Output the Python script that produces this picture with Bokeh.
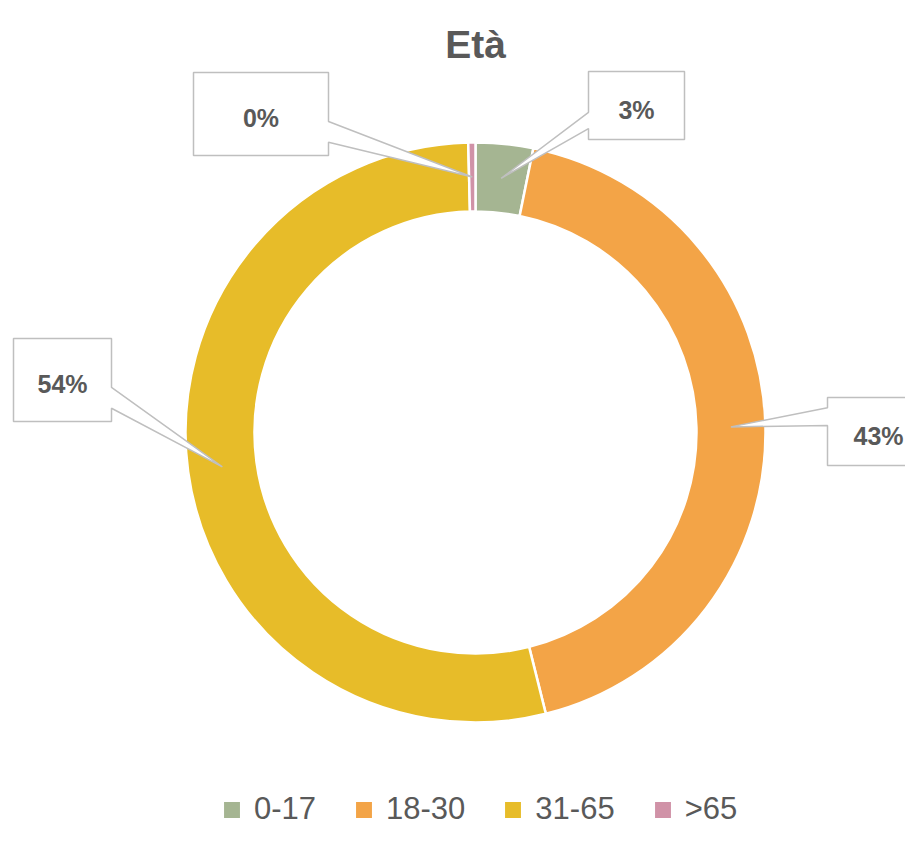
import math
from bokeh.plotting import figure
from bokeh.models import ColumnDataSource, Range1d, Legend, LegendItem
from bokeh.core.properties import value
from bokeh.embed import file_html
from bokeh.resources import INLINE

# ---- data ----
categories = ["0-17", "18-30", "31-65", ">65"]
shares = [3.2, 42.9, 53.5, 0.4]          # percent
labels = ["3%", "43%", "54%", "0%"]
colors = ["#A5B592", "#F3A447", "#E7BC29", "#D092A7"]
title_text = "Età"

# ---- layout constants (screen pixels, top-left origin) ----
W, H = 905, 828
PAGE_H = 844
def sy(y):  # screen y (down) -> data y (up)
    return PAGE_H - y

CX, CY = 475, sy(432)
R_OUT, R_IN = 290, 221
R_MID = (R_OUT + R_IN) / 2

# callout boxes: (x0, y0, x1, y1, side, base fraction start, base fraction end)
boxes = [
    (588, 71, 684, 139, "left", 0.60, 0.84),     # 3%
    (827, 397, 929, 465, "left", 0.15, 0.41),    # 43%
    (13, 338, 111, 421, "right", 0.59, 0.84),    # 54%
    (193, 72, 328, 155, "right", 0.59, 0.84),    # 0%
]

total = sum(shares)
starts, ends, mids = [], [], []
cum = 0.0
for s in shares:
    f0 = cum / total
    cum += s
    f1 = cum / total
    starts.append(math.pi / 2 - f1 * 2 * math.pi)
    ends.append(math.pi / 2 - f0 * 2 * math.pi)
    mids.append((f0 + f1) / 2 * 2 * math.pi)   # clockwise from top

src = ColumnDataSource(dict(x=[CX] * 4, y=[CY] * 4, start=starts, end=ends,
                            color=colors, cat=categories))

p = figure(width=W, height=H, output_backend="svg", toolbar_location=None,
           x_range=Range1d(0, W), y_range=Range1d(sy(H), sy(0)),
           min_border=0, outline_line_color=None)
p.axis.visible = False
p.grid.visible = False
p.background_fill_color = "white"
p.border_fill_color = "white"

r = p.annular_wedge(x="x", y="y", inner_radius=R_IN, outer_radius=R_OUT,
                    start_angle="start", end_angle="end", direction="anticlock",
                    fill_color="color", line_color="white", line_width=2.5,
                    source=src)

# ---- callouts ----
xs, ys, tx_l, ty_l = [], [], [], []
for i, (x0, y0, x1, y1, side, b0f, b1f) in enumerate(boxes):
    th = mids[i]
    tx = CX + R_MID * math.sin(th)
    ty = CY + R_MID * math.cos(th)
    b0 = y0 + (y1 - y0) * b0f
    b1 = y0 + (y1 - y0) * b1f
    if side == "right":
        pts = [(x0, sy(y0)), (x1, sy(y0)), (x1, sy(b0)), (tx, ty), (x1, sy(b1)),
               (x1, sy(y1)), (x0, sy(y1))]
    else:
        pts = [(x0, sy(y0)), (x1, sy(y0)), (x1, sy(y1)), (x0, sy(y1)),
               (x0, sy(b1)), (tx, ty), (x0, sy(b0))]
    xs.append([q[0] for q in pts])
    ys.append([q[1] for q in pts])
    tx_l.append((x0 + x1) / 2)
    ty_l.append(sy((y0 + y1) / 2 + 4))

p.patches(xs=xs, ys=ys, fill_color="white", line_color="#BFBFBF", line_width=1.5)
p.text(x=tx_l, y=ty_l, text=labels, text_align="center", text_baseline="middle",
       text_font=value("Liberation Sans"), text_font_style="bold",
       text_font_size="25px", text_color="#595959")

# ---- title ----
p.text(x=[CX], y=[sy(44)], text=[title_text], text_align="center",
       text_baseline="alphabetic", text_font=value("Liberation Sans"),
       text_font_style="bold", text_font_size="39px", text_color="#595959")

# ---- legend ----
legend = Legend(items=[LegendItem(label=c, renderers=[r], index=i)
                       for i, c in enumerate(categories)],
                orientation="horizontal", location=(220, 1),
                glyph_width=23, glyph_height=23, label_standoff=11, spacing=36,
                label_text_font="Liberation Sans", label_text_font_size="31px",
                label_text_color="#595959", padding=0, margin=0,
                border_line_alpha=0, background_fill_alpha=0)
p.add_layout(legend, "center")

open("out.html", "w").write(file_html(p, INLINE))
